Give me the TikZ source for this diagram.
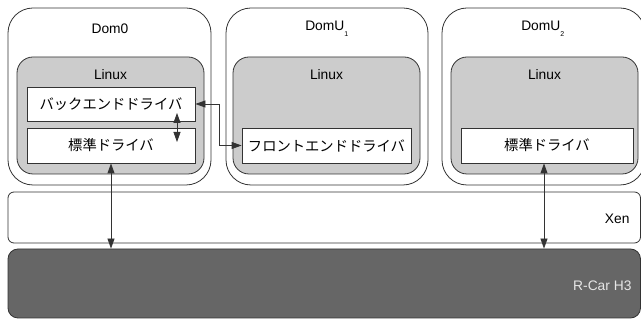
\documentclass[tikz,border=0pt]{standalone}
\usepackage{fontspec}
\setmainfont{Liberation Sans}
\newfontfamily\jp{Noto Sans CJK JP}
\usetikzlibrary{arrows.meta,positioning}

\definecolor{linegray}{HTML}{333333}
\definecolor{osgray}{HTML}{CCCCCC}
\definecolor{socgray}{HTML}{666666}
\definecolor{soctext}{HTML}{E6E6E6}

\tikzset{
  dombox/.style={draw=linegray, rounded corners=25pt, minimum width=203pt, minimum height=177pt, line width=0.8pt},
  linuxbox/.style={draw=linegray, fill=osgray, rounded corners=16pt, minimum width=187pt, minimum height=117pt, line width=0.8pt},
  drvbox/.style={draw=linegray, fill=white, minimum height=35pt, line width=0.8pt, font=\jp\fontsize{14.3}{17}\selectfont},
  lbl/.style={font=\fontsize{13.8}{16}\selectfont},
  link/.style={draw=linegray, line width=0.8pt, {Triangle[length=10pt,width=7pt]}-{Triangle[length=10pt,width=7pt]}}
}

\begin{document}
\begin{tikzpicture}[x=1pt,y=-1pt]
  \useasboundingbox (0,0) rectangle (641,320);
  \clip (0,0) rectangle (641,320);

  % domains
  \node[dombox] (dom0) at (109.5,96.5) {};
  \node[dombox, minimum width=202pt] (domu1) at (327,96.5) {};
  \node[dombox] (domu2) at (543.5,96.5) {};
  \node[lbl] (dom0t) at (110,29) {Dom0};
  \node[lbl] (domu1t) at (327,29) {DomU\textsubscript{\fontsize{7}{8}\selectfont\raisebox{-1.1ex}{1}}};
  \node[lbl] (domu2t) at (543,29) {DomU\textsubscript{\fontsize{7}{8}\selectfont\raisebox{-1.1ex}{2}}};

  % guest OS
  \node[linuxbox] (lin0) at (110.5,115.5) {};
  \node[linuxbox] (lin1) at (326.5,115.5) {};
  \node[linuxbox] (lin2) at (544.5,115.5) {};
  \node[lbl] (lin0t) at (110.5,75) {Linux};
  \node[lbl] (lin1t) at (326.5,75) {Linux};
  \node[lbl] (lin2t) at (544.5,75) {Linux};

  % drivers
  \node[drvbox, minimum width=168pt, minimum height=34pt] (back) at (111,104) {バックエンドドライバ};
  \node[drvbox, minimum width=168pt] (std0) at (111,145.5) {標準ドライバ};
  \node[drvbox, minimum width=169pt] (front) at (326.5,145.5) {フロントエンドドライバ};
  \node[drvbox, minimum width=172pt] (std2) at (547,145.5) {標準ドライバ};

  % hypervisor and SoC
  \node[draw=linegray, rounded corners=6pt, minimum width=632.5pt, minimum height=51pt, line width=0.8pt] (xen) at (324.25,217.5) {};
  \node[lbl, anchor=east] (xent) at (633,219) {Xen};
  \node[draw=linegray, fill=socgray, rounded corners=10pt, minimum width=632.5pt, minimum height=69pt, line width=0.8pt] (rcar) at (324.25,283.5) {};
  \node[lbl, anchor=east, text=soctext] (rcart) at (635,286) {R-Car H3};

  % links
  \coordinate (bk1) at (177,113);
  \coordinate (bk2) at (177,142);
  \draw[link] (bk1) -- (bk2);
  \draw[link] (back.east) -- ++(24,0) |- (front.west);
  \draw[link] (std0.south) -- (std0.south |- rcar.north);
  \draw[link] ([xshift=-3pt]std2.south) -- ([xshift=-3pt]std2.south |- rcar.north);
\end{tikzpicture}
\end{document}
